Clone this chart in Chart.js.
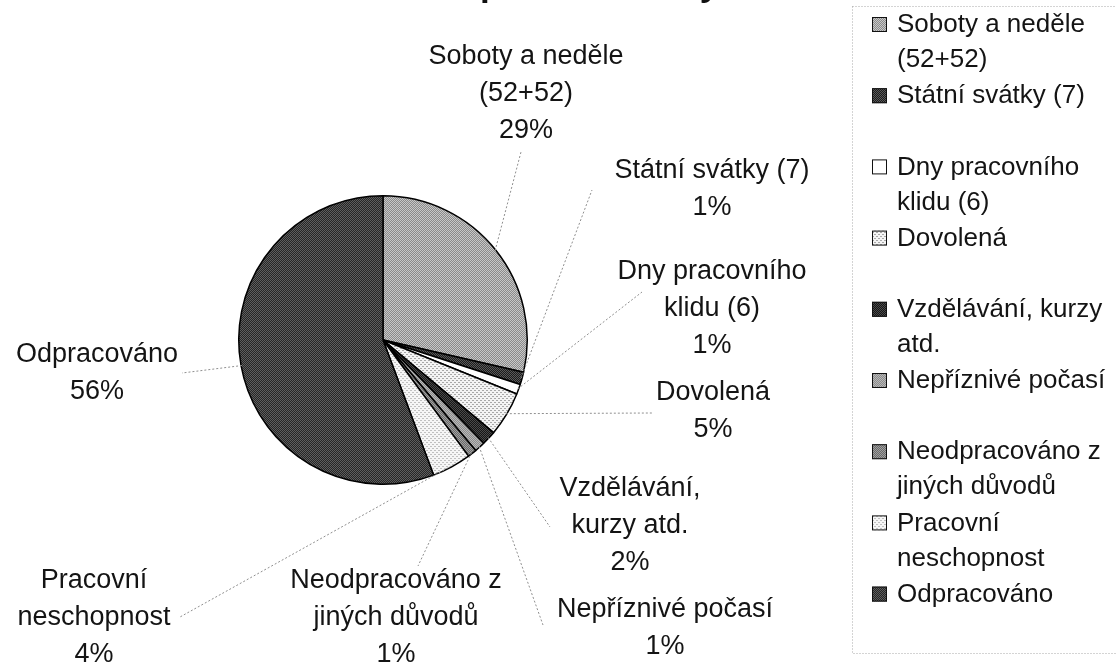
<!DOCTYPE html>
<html><head><meta charset="utf-8">
<script src="https://cdn.jsdelivr.net/npm/chart.js@4/dist/chart.umd.min.js"></script>
<style>html,body{margin:0;padding:0;background:#fff;overflow:hidden}#wrap{width:1116px;height:664px;position:relative}</style>
</head><body><div id="wrap"><canvas id="c" width="1116" height="664"></canvas></div>
<script>
// ---- data ----
const titleText = 'Fond pracovní doby';
const categories = ['Soboty a neděle (52+52)', 'Státní svátky (7)', 'Dny pracovního klidu (6)', 'Dovolená',
  'Vzdělávání, kurzy atd.', 'Nepříznivé počasí', 'Neodpracováno z jiných důvodů', 'Pracovní neschopnost', 'Odpracováno'];
const shares = [28.6, 1.4, 1.1, 5.0, 1.6, 1.2, 1.0, 4.4, 55.7];

// ---- styles / layout ----
const FONT = '"Liberation Sans", Arial, sans-serif';
const canvas = document.getElementById('c');
const ctx0 = canvas.getContext('2d');
function pattern(a, b, kind) {
  const t = document.createElement('canvas');
  const x = t.getContext('2d');
  if (kind === 'solid') { t.width = t.height = 2; x.fillStyle = a; x.fillRect(0, 0, 2, 2); }
  else if (kind === 'checker') {
    t.width = t.height = 2; x.fillStyle = a; x.fillRect(0, 0, 2, 2);
    x.fillStyle = b; x.fillRect(0, 0, 1, 1); x.fillRect(1, 1, 1, 1);
  } else {
    t.width = t.height = 4; x.fillStyle = a; x.fillRect(0, 0, 4, 4);
    x.fillStyle = b; x.fillRect(0, 0, 1, 1); x.fillRect(2, 2, 1, 1); x.fillRect(1, 0, 1, 1); x.fillRect(3, 2, 1, 1);
  }
  return ctx0.createPattern(t, 'repeat');
}
const fills = [
  pattern('#8a8a8a', '#c8c8c8', 'checker'),
  pattern('#1c1c1c', '#5a5a5a', 'checker'),
  pattern('#ffffff', '#ffffff', 'solid'),
  pattern('#f4f4f4', '#a8a8a8', 'dots'),
  pattern('#161616', '#4a4a4a', 'checker'),
  pattern('#8c8c8c', '#b8b8b8', 'checker'),
  pattern('#6a6a6a', '#a0a0a0', 'checker'),
  pattern('#f6f6f6', '#c0c0c0', 'dots'),
  pattern('#262626', '#5e5e5e', 'checker')
];
// label boxes: text centre x, first-line centre y, wrap width, leader end
const labelLayout = [
  {x: 526, y: 57, w: 225, ex: 521, ey: 152},
  {x: 712, y: 171, w: 225, ex: 592, ey: 190},
  {x: 712, y: 272, w: 225, ex: 642, ey: 292},
  {x: 713, y: 393, w: 225, ex: 652, ey: 413},
  {x: 630, y: 489, w: 160, ex: 550, ey: 527},
  {x: 665, y: 610, w: 240, ex: 543, ey: 625},
  {x: 396, y: 581, w: 225, ex: 418, ey: 566},
  {x: 94, y: 581, w: 200, ex: 180, ey: 617},
  {x: 97, y: 355, w: 225, ex: 182, ey: 373}
];

function wrap(ctx, text, maxW) {
  const words = text.split(' ');
  const lines = [];
  let cur = '';
  for (const w of words) {
    const t = cur ? cur + ' ' + w : w;
    if (cur && ctx.measureText(t).width > maxW) { lines.push(cur); cur = w; } else cur = t;
  }
  if (cur) lines.push(cur);
  return lines;
}

const titlePlugin = {
  id: 'clippedTitle',
  afterDraw(chart) {
    const c = chart.ctx;
    c.save();
    c.font = 'bold 35px ' + FONT;
    c.fillStyle = '#111';
    c.textAlign = 'center';
    c.textBaseline = 'alphabetic';
    c.fillText(titleText, 552, -4);
    c.restore();
  }
};

const labelPlugin = {
  id: 'pieLabels',
  afterDatasetsDraw(chart) {
    const c = chart.ctx;
    const meta = chart.getDatasetMeta(0);
    const vals = chart.data.datasets[0].data;
    const total = vals.reduce((a, b) => a + b, 0);
    c.save();
    meta.data.forEach((arc, i) => {
      const L = labelLayout[i];
      const mid = (arc.startAngle + arc.endAngle) / 2;
      const sx = arc.x + Math.cos(mid) * (arc.outerRadius - 1);
      const sy = arc.y + Math.sin(mid) * (arc.outerRadius - 1);
      c.strokeStyle = '#8f8f8f';
      c.lineWidth = 1;
      c.setLineDash([2, 2]);
      c.beginPath(); c.moveTo(sx, sy); c.lineTo(L.ex, L.ey); c.stroke();
    });
    c.setLineDash([]);
    c.font = '27px ' + FONT;
    c.fillStyle = '#141414';
    c.textAlign = 'center';
    c.textBaseline = 'middle';
    meta.data.forEach((arc, i) => {
      const L = labelLayout[i];
      const lines = wrap(c, chart.data.labels[i], L.w);
      lines.push(Math.round(vals[i] / total * 100) + '%');
      lines.forEach((ln, k) => c.fillText(ln, L.x, L.y + k * 37));
    });
    c.restore();
  }
};

const legendPlugin = {
  id: 'slotLegend',
  afterDraw(chart) {
    const c = chart.ctx;
    c.save();
    c.strokeStyle = '#a8a8a8';
    c.lineWidth = 1;
    c.setLineDash([1, 2]);
    c.strokeRect(852.5, 6.5, 300, 647);
    c.setLineDash([]);
    c.font = '26px ' + FONT;
    c.textBaseline = 'middle';
    c.textAlign = 'left';
    const ds = chart.data.datasets[0];
    chart.data.labels.forEach((lab, i) => {
      const y0 = 25 + i * 71.2;
      c.fillStyle = ds.backgroundColor[i];
      c.fillRect(872, y0 - 8, 15, 15);
      c.strokeStyle = '#111';
      c.lineWidth = 1;
      c.strokeRect(872.5, y0 - 7.5, 14, 14);
      c.fillStyle = '#141414';
      wrap(c, lab, 218).forEach((ln, k) => c.fillText(ln, 897, y0 + k * 35));
    });
    c.restore();
  }
};

new Chart(canvas, {
  type: 'pie',
  data: {
    labels: categories,
    datasets: [{
      data: shares,
      backgroundColor: fills,
      borderColor: '#000',
      borderWidth: 1.5,
      hoverOffset: 0
    }]
  },
  options: {
    responsive: false,
    animation: false,
    events: [],
    layout: {padding: {left: 238, top: 195, right: 588, bottom: 179}},
    plugins: {legend: {display: false}, title: {display: false}, tooltip: {enabled: false}}
  },
  plugins: [labelPlugin, legendPlugin, titlePlugin]
});
</script>
</body></html>
